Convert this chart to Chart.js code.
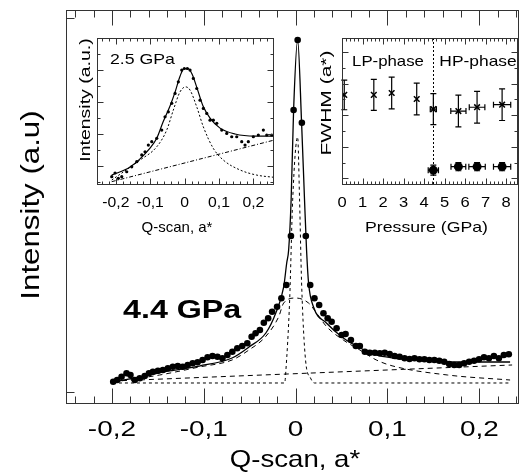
<!DOCTYPE html>
<html><head><meta charset="utf-8">
<script src="https://cdn.jsdelivr.net/npm/chart.js@4.4.1/dist/chart.umd.min.js"></script>
<style>
html,body{margin:0;padding:0;background:#fff;}
#wrap{position:relative;width:523px;height:475px;overflow:hidden;background:#fff;}
#wrap canvas{position:absolute;left:0;top:0;}
</style></head><body>
<div id="wrap">
<canvas id="cMain" width="523" height="475"></canvas>
<canvas id="cIn1" width="523" height="475"></canvas>
<canvas id="cIn2" width="523" height="475"></canvas>
</div>
<script>
// ===== Main panel: Q-scan at 4.4 GPa =====
const mainQ = [-0.1986,-0.1943,-0.1895,-0.1841,-0.1798,-0.1751,-0.1697,-0.1643,-0.1597,-0.1554,-0.1499,-0.1445,-0.1391,-0.1337,-0.1283,-0.1229,-0.1175,-0.1121,-0.1067,-0.1013,-0.0959,-0.0905,-0.0851,-0.0797,-0.0743,-0.0689,-0.0635,-0.0581,-0.0526,-0.0479,-0.0436,-0.0389,-0.0346,-0.0299,-0.0256,-0.0202,-0.0155,-0.0101,-0.0051,-0.0022,0.0022,0.0068,0.0111,0.0159,0.0205,0.0256,0.0303,0.0349,0.0392,0.0446,0.0501,0.0544,0.0602,0.0656,0.0699,0.0754,0.0808,0.0862,0.0916,0.0970,0.1024,0.1078,0.1132,0.1186,0.1240,0.1294,0.1348,0.1402,0.1456,0.1510,0.1564,0.1618,0.1672,0.1726,0.1781,0.1835,0.1889,0.1943,0.1997,0.2051,0.2105,0.2159,0.2213,0.2267,0.2321];
const mainI = [5.66,6.09,6.93,7.79,7.36,6.09,6.52,7.11,7.79,8.20,8.45,8.63,9.06,9.47,9.64,9.47,9.90,10.33,10.58,11.17,11.85,12.18,12.01,11.60,12.44,13.27,14.14,14.72,15.41,17.08,17.94,18.78,20.63,21.75,23.43,24.70,26.83,30.20,42.64,74.62,92.39,71.40,42.64,30.20,26.83,25.13,23.02,21.75,20.89,19.21,17.51,17.77,16.24,14.72,14.72,13.27,13.02,13.02,12.87,13.02,12.69,12.18,12.01,11.60,11.42,11.60,11.35,11.35,11.17,11.17,10.99,10.74,10.15,9.90,9.90,10.33,10.74,10.99,11.35,11.85,11.60,12.18,11.60,12.44,12.61];
const fitQ = [-0.1989,-0.1697,-0.1373,-0.1049,-0.0692,-0.0508,-0.0324,-0.0216,-0.0130,-0.0097,-0.0076,-0.0049,-0.0022,0.0022,0.0065,0.0097,0.0119,0.0141,0.0195,0.0335,0.0519,0.0703,0.0876,0.1059,0.1330,0.1654,0.1978,0.2335];
const fitI = [5.58,6.85,8.38,9.64,11.68,14.47,18.02,23.10,29.70,35.79,39.09,51.78,74.62,92.39,71.32,51.78,39.09,30.71,24.62,20.56,16.75,14.21,12.44,11.68,11.17,10.66,10.66,10.66];
const broadQ = [-0.1989,-0.1481,-0.1049,-0.0692,-0.0508,-0.0328,-0.0184,-0.0130,0,0.0141,0.0230,0.0338,0.0519,0.0699,0.0879,0.1059,0.1654,0.2335];
const broadI = [5.58,7.36,9.39,11.17,13.71,17.08,22.16,25.63,26.90,25.63,23.02,19.62,16.24,13.71,11.17,9.64,7.36,6.09];
const narrowQ = [-0.1989,-0.0119,-0.0108,-0.0065,-0.0032,0.0022,0.0043,0.0065,0.0108,0.0162,0.0205,0.2335];
const narrowI = [5.33,5.33,7.87,26.40,51.78,67.77,51.78,30.71,11.17,6.60,5.33,5.33];
const bgQ = [-0.1989,0.2357];
const bgI = [5.84,9.90];
const mainTickValues = [-0.2,-0.1,0,0.1,0.2];
const mainTickLabels = ['-0,2','-0,1','0','0,1','0,2'];

// ===== Inset 1: Q-scan at 2.5 GPa =====
const in1Q = [-0.2121,-0.2025,-0.1929,-0.1830,-0.1685,-0.1539,-0.1394,-0.1248,-0.1152,-0.1056,-0.0957,-0.0812,-0.0666,-0.0570,-0.0474,-0.0375,-0.0279,-0.0183,-0.0084,-0.0009,0.0079,0.0157,0.0253,0.0352,0.0448,0.0544,0.0643,0.0739,0.0835,0.0934,0.1079,0.1225,0.1370,0.1516,0.1661,0.1757,0.1853,0.1999,0.2144,0.2290,0.2389,0.2534];
const in1I = [-0.68,-0.45,-0.78,-0.68,-0.37,-0.06,0.26,0.68,0.88,1.30,1.51,1.72,2.24,3.07,3.38,3.91,4.53,5.26,5.99,6.09,6.09,5.99,5.47,4.84,4.11,3.59,3.28,2.86,2.86,2.66,2.24,2.03,1.82,1.82,1.51,1.30,1.51,1.82,1.93,2.24,1.93,1.93];
const in1FitQ = [-0.2121,-0.1589,-0.1007,-0.0812,-0.0628,-0.0425,-0.0279,-0.0134,-0.0017,0.0099,0.0215,0.0361,0.0535,0.0739,0.1030,0.1466,0.2048,0.2601];
const in1FitI = [-0.58,-0.08,1.11,1.72,2.74,3.74,4.61,5.61,6.08,6.08,5.74,4.86,3.74,2.99,2.36,1.99,1.86,1.86];
const in1LorQ = [-0.2121,-0.1298,-0.0812,-0.0521,-0.0329,-0.0134,0.0032,0.0157,0.0352,0.0544,0.0835,0.1126,0.1612,0.2098,0.2601];
const in1LorI = [-0.89,0.36,1.19,2.24,3.49,4.63,4.94,4.74,3.69,2.44,1.09,0.36,-0.26,-0.58,-0.72];
const in1BgQ = [-0.2121,0.2601];
const in1BgI = [-0.99,1.61];
const in1TickValues = [-0.2,-0.1,0,0.1,0.2];
const in1TickLabels = ['-0,2','-0,1','0','0,1','0,2'];

// ===== Inset 2: FWHM vs pressure =====
const wideP = [0.11,1.55,2.42,3.64,4.45,5.67,6.58,7.80];
const wideW = [2.64,2.64,2.70,2.51,2.19,2.13,2.25,2.33];
const wideWErr = [0.47,0.49,0.50,0.50,0.49,0.50,0.50,0.50];
const widePErr = [0,0,0,0,0.15,0.37,0.38,0.42];
const sharpP = [4.45,5.67,6.58,7.80];
const sharpW = [0.26,0.37,0.37,0.37];
const sharpWErr = [0.16,0.13,0.13,0.13];
const sharpPErr = [0.25,0.36,0.40,0.42];
const transitionP = 4.45;
const in2TickValues = [0,1,2,3,4,5,6,7,8];
const in2TickLabels = ['0','1','2','3','4','5','6','7','8'];

// ---------- helpers ----------
const FONT = '"Liberation Sans", Arial, Helvetica, sans-serif';
const pts = (xs, ys) => xs.map((x, i) => ({x: x, y: ys[i]}));
function drawText(ctx, s, x, y, o) {
  ctx.save();
  ctx.translate(x, y);
  if (o.rot) ctx.rotate(-Math.PI / 2);
  ctx.scale(o.sx || 1, 1);
  ctx.font = (o.bold ? 'bold ' : '') + o.size + 'px ' + FONT;
  ctx.textAlign = o.align || 'center';
  ctx.textBaseline = o.base || 'alphabetic';
  ctx.fillStyle = '#000';
  ctx.fillText(s, 0, 0);
  ctx.restore();
}
function range(a, b, step) { const r = []; for (let v = a; v <= b + 1e-9; v += step) r.push(+v.toFixed(6)); return r; }
function makeFrame(cfg) {
  return {
    id: 'frame_' + Math.random().toString(36).slice(2),
    beforeDatasetsDraw(chart) {
      const a = chart.chartArea, c = chart.ctx;
      c.save(); c.fillStyle = '#fff';
      c.fillRect(a.left, a.top, a.right - a.left, a.bottom - a.top);
      c.restore();
      if (cfg.under) cfg.under(chart);
    },
    afterDraw(chart) {
      const a = chart.chartArea, c = chart.ctx, xs = chart.scales.x, ys = chart.scales.y;
      const L = Math.round(a.left) + 0.5, R = Math.round(a.right) - 0.5;
      const T = Math.round(a.top) + 0.5, B = Math.round(a.bottom) - 0.5;
      c.save();
      c.strokeStyle = '#333'; c.lineWidth = 1;
      c.strokeRect(L, T, R - L, B - T);
      c.beginPath();
      cfg.xTicks.forEach(t => {
        const px = Math.round(xs.getPixelForValue(t.v)) + 0.5;
        if (px < L - 0.1 || px > R + 0.1) return;
        c.moveTo(px, B); c.lineTo(px, B - t.len);
        c.moveTo(px, T); c.lineTo(px, T + t.len);
      });
      cfg.yTicks.forEach(t => {
        const py = Math.round(ys.getPixelForValue(t.v)) + 0.5;
        if (py < T - 0.1 || py > B + 0.1) return;
        c.moveTo(L, py); c.lineTo(L + t.len, py);
        if (cfg.yRight) { c.moveTo(R, py); c.lineTo(R - t.len, py); }
      });
      c.stroke();
      c.restore();
      cfg.texts.forEach(t => {
        const x = (t.xv !== undefined) ? xs.getPixelForValue(t.xv) : t.x;
        drawText(c, t.s, x, t.y, t);
      });
    }
  };
}
function baseOptions(pad, xr, yr) {
  return {
    responsive: false, animation: false, events: [],
    layout: {padding: pad},
    plugins: {legend: {display: false}, tooltip: {enabled: false}},
    scales: {
      x: {type: 'linear', display: false, min: xr[0], max: xr[1]},
      y: {type: 'linear', display: false, min: yr[0], max: yr[1]}
    }
  };
}
function lineDs(data, dash, width) {
  return {data: data, showLine: true, pointRadius: 0, borderColor: '#000', borderWidth: width || 1,
          borderDash: dash || [], cubicInterpolationMode: 'monotone', fill: false};
}

// ---------- main chart ----------
const mainMinor = range(-0.24, 0.24, 0.02).map(v => ({v: v, len: 7}));
const mainMajor = mainTickValues.map(v => ({v: v, len: 15}));
new Chart(document.getElementById('cMain'), {
  type: 'scatter',
  data: {datasets: [
    {data: pts(mainQ, mainI), pointRadius: 3.3, pointBackgroundColor: '#000', pointBorderWidth: 0, showLine: false},
    lineDs(pts(fitQ, fitI), [], 1.3),
    lineDs(pts(broadQ, broadI), [5, 4], 1),
    lineDs(pts(narrowQ, narrowI), [3, 3], 1),
    lineDs(pts(bgQ, bgI), [5, 4], 1)
  ]},
  options: baseOptions({left: 66, top: 10, right: 1, bottom: 71}, [-0.25, 0.2432], [0, 100]),
  plugins: [makeFrame({
    xTicks: mainMinor.concat(mainMajor),
    yTicks: [{v: 3, len: 8}, {v: 98, len: 8}],
    yRight: false,
    texts: mainTickValues.map((v, i) => ({s: mainTickLabels[i], xv: v, y: 436, size: 22, sx: 1.27}))
      .concat([
        {s: 'Q-scan, a*', x: 295, y: 467, size: 24, sx: 1.15},
        {s: 'Intensity (a.u)', x: 39, y: 205, rot: true, size: 25, sx: 1.25},
        {s: '4.4 GPa', x: 123, y: 318, size: 26, bold: true, sx: 1.24, align: 'left'}
      ])
  })]
});

// ---------- inset 1 ----------
const in1Minor = range(-0.24, 0.26, 0.02).map(v => ({v: v, len: 3}));
const in1Major = in1TickValues.map(v => ({v: v, len: 6}));
new Chart(document.getElementById('cIn1'), {
  type: 'scatter',
  data: {datasets: [
    {data: pts(in1Q, in1I), pointRadius: 1.6, pointBackgroundColor: '#000', pointBorderWidth: 0, showLine: false},
    lineDs(pts(in1FitQ, in1FitI), [], 1.2),
    lineDs(pts(in1LorQ, in1LorI), [2, 2], 1),
    lineDs(pts(in1BgQ, in1BgI), [4, 2, 1, 2], 1)
  ]},
  options: baseOptions({left: 97, top: 38, right: 249, bottom: 290}, [-0.255, 0.26], [-1.2, 8]),
  plugins: [makeFrame({
    xTicks: in1Minor.concat(in1Major),
    yTicks: range(-1, 8, 1).map(v => ({v: v, len: (v % 2 === 0) ? 6 : 3})),
    yRight: true,
    texts: in1TickValues.map((v, i) => ({s: in1TickLabels[i], xv: v, y: 207, size: 15, sx: 1.05}))
      .concat([
        {s: '2.5 GPa', x: 110, y: 63.5, size: 15, sx: 1.18, align: 'left'},
        {s: 'Q-scan, a*', x: 177, y: 232, size: 15, sx: 1.0},
        {s: 'Intensity (a.u.)', x: 90, y: 100, rot: true, size: 15, sx: 1.3}
      ])
  })]
});

// ---------- inset 2 ----------
function errorBars(chart) {
  const c = chart.ctx, xs = chart.scales.x, ys = chart.scales.y;
  c.save(); c.strokeStyle = '#000'; c.lineWidth = 1.2;
  const draw = (P, W, dW, dP) => {
    P.forEach((p, i) => {
      const x = xs.getPixelForValue(p), y = ys.getPixelForValue(W[i]);
      c.beginPath();
      if (dW[i] > 0) {
        const y1 = ys.getPixelForValue(W[i] + dW[i]), y2 = ys.getPixelForValue(W[i] - dW[i]);
        c.moveTo(x, y1); c.lineTo(x, y2);
        c.moveTo(x - 3, y1); c.lineTo(x + 3, y1);
        c.moveTo(x - 3, y2); c.lineTo(x + 3, y2);
      }
      if (dP[i] > 0) {
        const x1 = xs.getPixelForValue(p - dP[i]), x2 = xs.getPixelForValue(p + dP[i]);
        c.moveTo(x1, y); c.lineTo(x2, y);
        c.moveTo(x1, y - 3); c.lineTo(x1, y + 3);
        c.moveTo(x2, y - 3); c.lineTo(x2, y + 3);
      }
      c.stroke();
    });
  };
  draw(wideP, wideW, wideWErr, widePErr);
  draw(sharpP, sharpW, sharpWErr, sharpPErr);
  // phase boundary
  const xb = Math.round(xs.getPixelForValue(transitionP)) + 0.5;
  c.lineWidth = 1; c.setLineDash([2, 2]);
  c.beginPath(); c.moveTo(xb, chart.chartArea.top); c.lineTo(xb, chart.chartArea.bottom); c.stroke();
  c.restore();
}
const in2Minor = range(0, 8.4, 0.2).map(v => ({v: v, len: 3}));
const in2Major = in2TickValues.map(v => ({v: v, len: 6}));
new Chart(document.getElementById('cIn2'), {
  type: 'scatter',
  data: {datasets: [
    {data: pts(wideP, wideW), pointStyle: 'crossRot', pointRadius: 4, pointBorderColor: '#000', pointBorderWidth: 1.5, showLine: false},
    {data: pts(sharpP, sharpW), pointRadius: 4.5, pointBackgroundColor: '#000', pointBorderWidth: 0, showLine: false}
  ]},
  options: baseOptions({left: 342, top: 38, right: 1, bottom: 290}, [0, 8.55], [-0.21, 4.44]),
  plugins: [makeFrame({
    under: errorBars,
    xTicks: in2Minor.concat(in2Major),
    yTicks: range(-0, 4.4, 0.5).map(v => ({v: v, len: (Math.abs(v - Math.round(v)) < 1e-6) ? 6 : 3})),
    yRight: true,
    texts: in2TickValues.map((v, i) => ({s: in2TickLabels[i], xv: v, y: 207, size: 15, sx: 1.1}))
      .concat([
        {s: 'Pressure (GPa)', x: 426.5, y: 232, size: 15, sx: 1.18},
        {s: 'LP-phase', x: 388, y: 66, size: 15, sx: 1.12},
        {s: 'HP-phase', x: 478, y: 66, size: 15, sx: 1.16},
        {s: 'FWHM (a*)', x: 331, y: 103, rot: true, size: 15, sx: 1.4}
      ])
  })]
});
</script>
</body></html>
